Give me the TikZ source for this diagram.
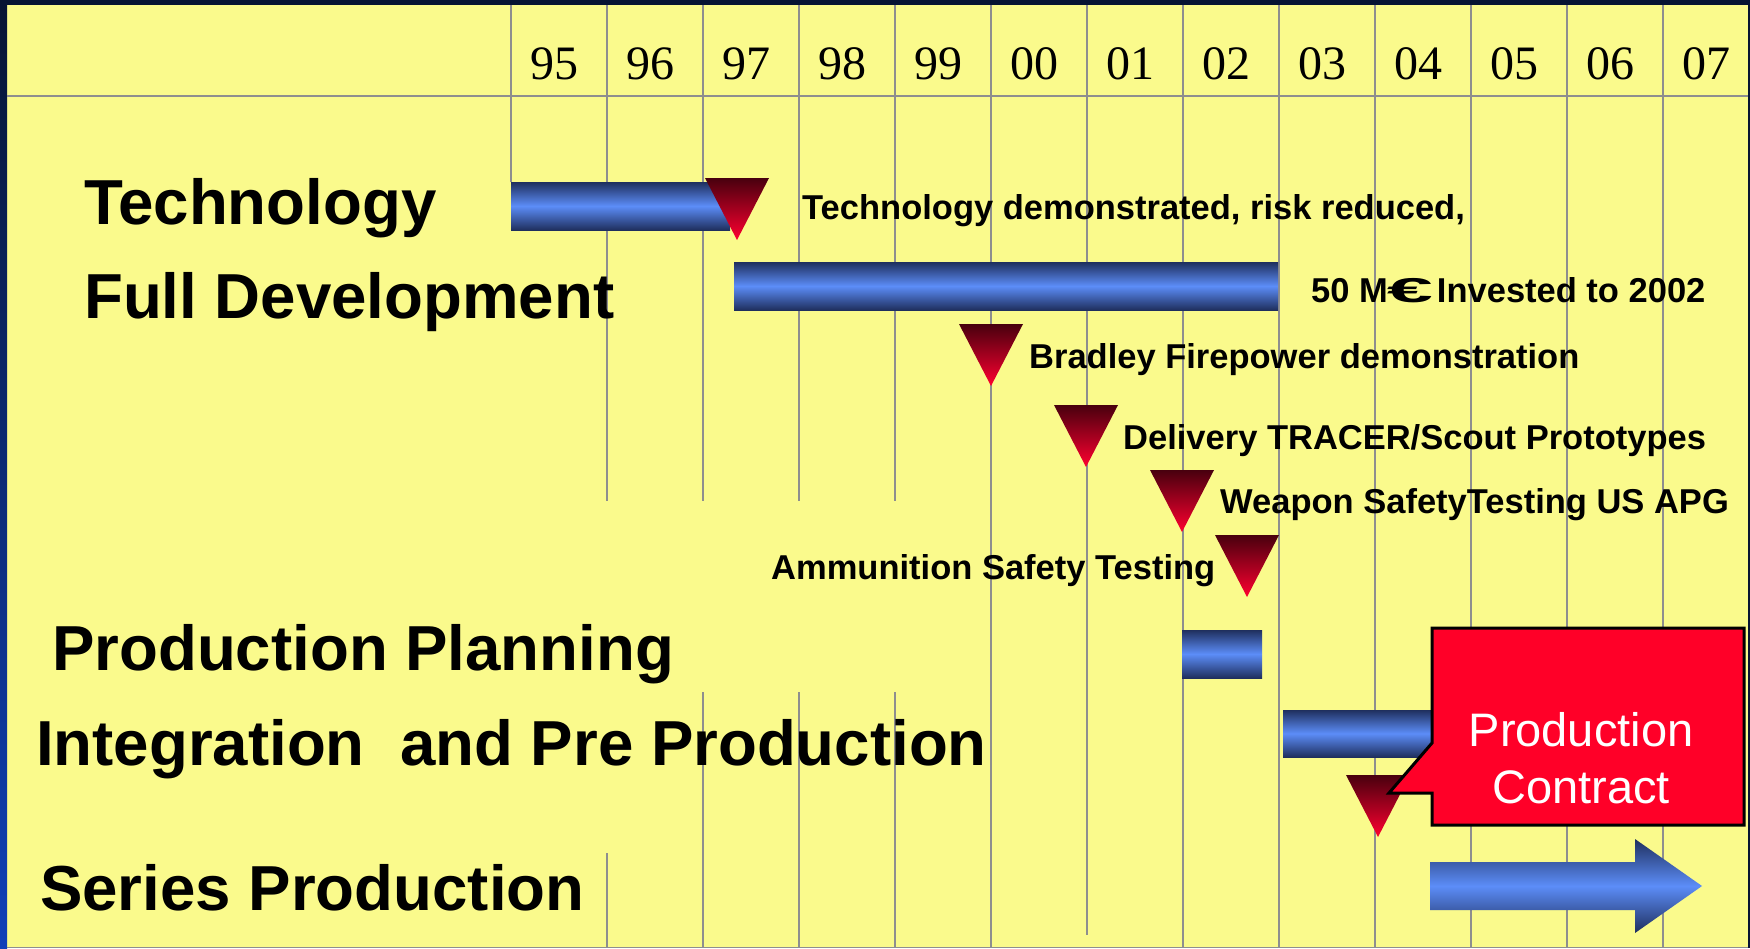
\documentclass[tikz,border=0pt]{standalone}
\usepackage{fontspec}
\setmainfont{Liberation Sans}
\newfontfamily\yearfont{Liberation Serif}
\definecolor{yellowbg}{HTML}{FAFA8C}
\definecolor{navy}{HTML}{071433}
\definecolor{sideblue}{HTML}{1040B8}
\definecolor{gridgray}{HTML}{8E8E8E}
\definecolor{barDark}{HTML}{1F2F5E}
\definecolor{barLight}{HTML}{5C8DF8}
\definecolor{mileTop}{HTML}{48000E}
\definecolor{mileBot}{HTML}{FF0030}
\definecolor{callRed}{HTML}{FF0028}
\newcommand\msmark[2]{\shade[milestone] (#1-32,#2) -- (#1+32,#2) -- (#1,#2+62) -- cycle;}
\begin{document}
\begin{tikzpicture}[x=1pt,y=-1pt,
  gridline/.style={draw=gridgray,line width=1.8pt},
  bar/.style={top color=barDark,bottom color=barDark,middle color=barLight},
  milestone/.style={top color=mileTop,bottom color=mileBot},
  heading/.style={anchor=base west,inner sep=0pt,font=\fontsize{63.6}{70}\selectfont\bfseries},
  note/.style={anchor=base west,inner sep=0pt,font=\fontsize{34.5}{40}\selectfont\bfseries},
  year/.style={anchor=base,inner sep=0pt,font=\yearfont\fontsize{48}{52}\selectfont},
  calltext/.style={anchor=base,inner sep=0pt,text=white,font=\fontsize{47}{57}\selectfont}]
\useasboundingbox (0,0) rectangle (1750,948);
% background and frame
\fill[yellowbg] (0,0) rectangle (1750,948);
\fill[navy] (0,0) rectangle (1750,5);
\shade[top color=navy,bottom color=sideblue] (0,0) rectangle (7,948);
\fill[navy] (1748,0) rectangle (1750,948);
\draw[draw=gridgray,line width=1pt] (7,947.5) -- (1748,947.5);
% header rule
\draw[gridline,line width=2.5pt] (7,96) -- (1748,96);
% vertical grid lines
\draw[gridline] (511,5) -- (511,182);
\draw[gridline] (607,5) -- (607,501) (607,853) -- (607,948);
\foreach \gx in {703,799,895}
  \draw[gridline] (\gx,5) -- (\gx,501) (\gx,692) -- (\gx,948);
\draw[gridline] (991,5) -- (991,948);
\draw[gridline] (1087,5) -- (1087,935);
\foreach \gx in {1183,1279,1375,1471,1567,1663}
  \draw[gridline] (\gx,5) -- (\gx,948);
% years
\foreach \yr [count=\i from 0] in {95,96,97,98,99,00,01,02,03,04,05,06,07}
  \node[year] (yr\i) at ({554+96*\i},79) {\yr};
% bars
\shade[bar] (511,182) rectangle (730,230);
\shade[bar] (734,262) rectangle (1278,310);
\shade[bar] (1182,630) rectangle (1262,678);
\shade[bar] (1283,710) rectangle (1440,757);
% milestones
\msmark{737}{178}
\msmark{991}{324}
\msmark{1086}{405}
\msmark{1182}{470}
\msmark{1247}{535}
\msmark{1378}{775}
% phase labels
\node[heading] (tech) at (84,224) {Technology};
\node[heading] (fulldev) at (84,318) {Full Development};
\node[heading] (prodplan) at (52,670) {Production Planning};
\node[heading] (integ) at (36,765) {Integration\ \ and Pre Production};
\node[heading] (series) at (40,910) {Series Production};
% milestone notes
\node[note] (n1) at (802,219) {Technology demonstrated, risk reduced,};
\node[note] (n2) at (1311,302) {50 M\kern-1pt\scalebox{2.4}[1]{€}\kern4pt Invested to 2002};
\node[note] (n3) at (1029,368) {Bradley Firepower demonstration};
\node[note] (n4) at (1123,449) {Delivery TRACER/Scout Prototypes};
\node[note] (n5) at (1220,513) {Weapon SafetyTesting US APG};
\node[note] (n6) at (771,579) {Ammunition Safety Testing};
% callout
\filldraw[fill=callRed,draw=black,line width=3pt,line join=miter]
  (1432,628) -- (1744,628) -- (1744,825) -- (1432,825) -- (1432,793)
  -- (1389,793) -- (1432,743) -- cycle;
\node[calltext] (c1) at (1581,746) {Production};
\node[calltext] (c2) at (1581,803) {Contract};
% series production arrow
\shade[top color=barDark,bottom color=barDark,middle color=barLight]
  (1430,862) -- (1635,862) -- (1635,839) -- (1702,886) -- (1635,933)
  -- (1635,910) -- (1430,910) -- cycle;
\end{tikzpicture}
\end{document}
